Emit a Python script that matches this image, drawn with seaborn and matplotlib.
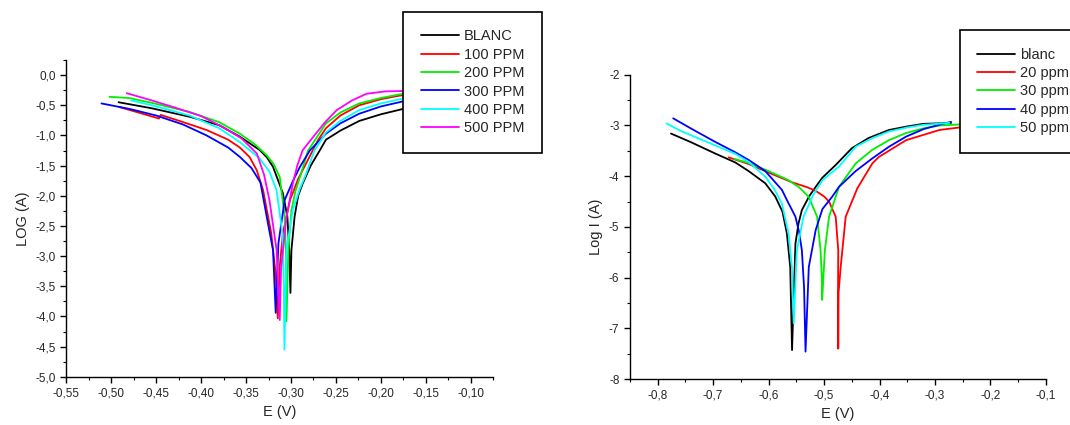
import pandas as pd
import matplotlib
matplotlib.use('Agg')
import matplotlib.pyplot as plt
from matplotlib.ticker import MultipleLocator
import seaborn as sns

# Courbes de polarisation - panneau gauche (E en V, log I)
e_blanc_g = [-0.492, -0.455, -0.413, -0.380, -0.357, -0.335, -0.327, -0.320, -0.309, -0.304, -0.302, -0.3006,
             -0.2995, -0.296, -0.292, -0.287, -0.278, -0.268, -0.261, -0.245, -0.224, -0.200, -0.175, -0.160]
log_blanc_g = [-0.45, -0.55, -0.69, -0.83, -1.02, -1.24, -1.36, -1.52, -1.96, -2.35, -2.90, -3.61,
               -2.90, -2.35, -2.00, -1.80, -1.50, -1.25, -1.07, -0.92, -0.76, -0.65, -0.56, -0.51]

e_100 = [-0.491, -0.470, -0.447, -0.445, -0.420, -0.394, -0.370, -0.357, -0.346, -0.338, -0.331, -0.322, -0.317, -0.3147,
         -0.3125, -0.309, -0.301, -0.292, -0.283, -0.270, -0.261, -0.245, -0.224, -0.200, -0.179, -0.160]
log_100 = [-0.53, -0.62, -0.72, -0.66, -0.78, -0.91, -1.07, -1.20, -1.36, -1.58, -1.91, -2.62, -3.30, -4.03,
           -3.17, -2.62, -2.07, -1.72, -1.46, -1.08, -0.88, -0.67, -0.50, -0.40, -0.34, -0.31]

e_200 = [-0.502, -0.480, -0.455, -0.413, -0.380, -0.357, -0.340, -0.327, -0.319, -0.3125, -0.307, -0.3055, -0.305,
         -0.303, -0.2995, -0.295, -0.290, -0.281, -0.261, -0.245, -0.224, -0.200, -0.179, -0.160]
log_200 = [-0.36, -0.38, -0.46, -0.61, -0.78, -0.97, -1.15, -1.33, -1.48, -1.69, -2.35, -3.00, -4.08,
           -2.90, -2.24, -1.92, -1.69, -1.25, -0.80, -0.62, -0.47, -0.38, -0.32, -0.29]

e_300 = [-0.511, -0.480, -0.450, -0.420, -0.394, -0.370, -0.357, -0.344, -0.334, -0.327, -0.320, -0.317,
         -0.314, -0.307, -0.298, -0.290, -0.279, -0.261, -0.245, -0.224, -0.200, -0.175, -0.160]
log_300 = [-0.47, -0.56, -0.67, -0.82, -1.00, -1.20, -1.355, -1.54, -1.78, -2.35, -2.90, -3.94,
           -2.79, -2.07, -1.76, -1.52, -1.25, -0.97, -0.80, -0.64, -0.52, -0.435, -0.40]

e_400 = [-0.478, -0.450, -0.413, -0.380, -0.357, -0.335, -0.324, -0.316, -0.3095, -0.308, -0.3073,
         -0.305, -0.298, -0.290, -0.283, -0.274, -0.261, -0.245, -0.224, -0.200, -0.179, -0.160]
log_400 = [-0.42, -0.52, -0.67, -0.88, -1.11, -1.38, -1.60, -1.91, -2.62, -3.50, -4.55,
           -2.90, -2.24, -1.88, -1.63, -1.25, -0.95, -0.76, -0.58, -0.47, -0.40, -0.36]

e_500 = [-0.483, -0.455, -0.431, -0.400, -0.376, -0.355, -0.338, -0.330, -0.324, -0.316, -0.3125,
         -0.311, -0.305, -0.298, -0.293, -0.287, -0.275, -0.262, -0.249, -0.232, -0.216, -0.195, -0.160]
log_500 = [-0.30, -0.42, -0.53, -0.68, -0.86, -1.05, -1.30, -1.65, -2.07, -2.90, -4.06,
           -3.20, -2.35, -1.80, -1.50, -1.245, -1.02, -0.78, -0.58, -0.42, -0.31, -0.27, -0.26]

# panneau droit
e_blanc_d = [-0.776, -0.740, -0.697, -0.660, -0.636, -0.606, -0.588, -0.575, -0.567, -0.561, -0.5577,
             -0.5516, -0.546, -0.540, -0.527, -0.515, -0.503, -0.479, -0.450, -0.420, -0.383, -0.350, -0.322, -0.271]
log_blanc_d = [-3.16, -3.33, -3.55, -3.73, -3.90, -4.14, -4.40, -4.70, -5.13, -5.79, -7.43,
               -5.33, -4.93, -4.67, -4.40, -4.21, -4.03, -3.78, -3.45, -3.25, -3.09, -3.02, -2.97, -2.95]

e_20 = [-0.672, -0.636, -0.600, -0.558, -0.530, -0.515, -0.500, -0.491, -0.479, -0.4744, -0.4748, -0.4744,
        -0.4738, -0.470, -0.461, -0.440, -0.413, -0.401, -0.352, -0.292, -0.256, -0.240]
log_20 = [-3.63, -3.76, -3.93, -4.12, -4.22, -4.29, -4.40, -4.50, -4.80, -5.46, -6.30, -7.40,
          -6.30, -5.79, -4.80, -4.24, -3.75, -3.62, -3.29, -3.09, -3.04, -3.02]

e_30 = [-0.662, -0.636, -0.600, -0.564, -0.545, -0.5275, -0.5125, -0.5063, -0.504, -0.5034,
        -0.4985, -0.491, -0.473, -0.443, -0.413, -0.383, -0.352, -0.322, -0.290, -0.253]
log_30 = [-3.66, -3.74, -3.90, -4.08, -4.22, -4.41, -4.80, -5.46, -6.00, -6.44,
          -5.46, -4.80, -4.21, -3.75, -3.48, -3.29, -3.15, -3.06, -3.00, -2.98]

e_40 = [-0.772, -0.740, -0.697, -0.660, -0.636, -0.606, -0.576, -0.567, -0.5516, -0.545, -0.540, -0.536, -0.5334,
        -0.5275, -0.515, -0.503, -0.485, -0.473, -0.443, -0.413, -0.383, -0.352, -0.320, -0.290, -0.271]
log_40 = [-2.86, -3.06, -3.32, -3.53, -3.68, -3.90, -4.27, -4.47, -4.80, -5.10, -5.46, -6.20, -7.46,
          -5.79, -5.06, -4.65, -4.40, -4.21, -3.90, -3.65, -3.42, -3.22, -3.07, -2.98, -2.93]

e_50 = [-0.784, -0.760, -0.730, -0.697, -0.660, -0.636, -0.606, -0.590, -0.576, -0.564, -0.558, -0.5547,
        -0.549, -0.537, -0.520, -0.503, -0.473, -0.443, -0.413, -0.383, -0.350, -0.322, -0.274]
log_50 = [-2.96, -3.10, -3.24, -3.39, -3.56, -3.72, -4.01, -4.25, -4.54, -5.13, -5.80, -6.90,
          -5.46, -4.80, -4.38, -4.08, -3.81, -3.42, -3.25, -3.12, -3.04, -2.99, -2.95]

# étiquettes des axes
xticks_g = [-0.55, -0.50, -0.45, -0.40, -0.35, -0.30, -0.25, -0.20, -0.15, -0.10]
xlabels_g = ['-0,55', '-0,50', '-0,45', '-0,40', '-0,35', '-0,30', '-0,25', '-0,20', '-0,15', '-0,10']
yticks_g = [0.0, -0.5, -1.0, -1.5, -2.0, -2.5, -3.0, -3.5, -4.0, -4.5, -5.0]
ylabels_g = ['0,0', '-0,5', '-1,0', '-1,5', '-2,0', '-2,5', '-3,0', '-3,5', '-4,0', '-4,5', '-5,0']
xticks_d = [-0.8, -0.7, -0.6, -0.5, -0.4, -0.3, -0.2, -0.1]
xlabels_d = ['-0,8', '-0,7', '-0,6', '-0,5', '-0,4', '-0,3', '-0,2', '-0,1']
yticks_d = [-2, -3, -4, -5, -6, -7, -8]
ylabels_d = ['-2', '-3', '-4', '-5', '-6', '-7', '-8']

couleurs = ['#000000', '#FF0000', '#00EE00', '#0000FF', '#00FFFF', '#FF00FF']

courbes_g = [('BLANC', e_blanc_g, log_blanc_g), ('100 PPM', e_100, log_100), ('200 PPM', e_200, log_200),
             ('300 PPM', e_300, log_300), ('400 PPM', e_400, log_400), ('500 PPM', e_500, log_500)]
courbes_d = [('blanc', e_blanc_d, log_blanc_d), ('20 ppm', e_20, log_20), ('30 ppm', e_30, log_30),
             ('40 ppm', e_40, log_40), ('50 ppm', e_50, log_50)]

sns.set_style('ticks')
plt.rcParams['font.family'] = ['Liberation Sans', 'DejaVu Sans']

fig = plt.figure(figsize=(10.7, 4.25), dpi=100)
ax1 = fig.add_axes([0.0621, 0.1135, 0.3987, 0.7453])
ax2 = fig.add_axes([0.5887, 0.1082, 0.3888, 0.7160])


def tracer(ax, courbes):
    for (nom, e, lg), c in zip(courbes, couleurs):
        df = pd.DataFrame({'E': e, 'logI': lg})
        sns.lineplot(data=df, x='E', y='logI', sort=False, estimator=None,
                     color=c, linewidth=1.3, label=nom, ax=ax)


tracer(ax1, courbes_g)
tracer(ax2, courbes_d)

ax1.set_xlim(-0.55, -0.075)
ax1.set_ylim(-5.0, 0.25)
ax1.set_xticks(xticks_g, xlabels_g)
ax1.set_yticks(yticks_g, ylabels_g)
ax1.xaxis.set_minor_locator(MultipleLocator(0.025))
ax1.yaxis.set_minor_locator(MultipleLocator(0.25))
ax1.set_xlabel('E (V)', fontsize=10.5)
ax1.set_ylabel('LOG (A)', fontsize=10.5)

ax2.set_xlim(-0.85, -0.1)
ax2.set_ylim(-8, -2)
ax2.set_xticks(xticks_d, xlabels_d)
ax2.set_yticks(yticks_d, ylabels_d)
ax2.xaxis.set_minor_locator(MultipleLocator(0.05))
ax2.yaxis.set_minor_locator(MultipleLocator(0.5))
ax2.set_xlabel('E (V)', fontsize=10.5)
ax2.set_ylabel('Log I (A)', fontsize=10.5)

for ax in (ax1, ax2):
    sns.despine(ax=ax)
    ax.spines['left'].set_linewidth(1.0)
    ax.spines['bottom'].set_linewidth(1.0)
    ax.spines['left'].set_color('black')
    ax.spines['bottom'].set_color('black')
    ax.tick_params(which='major', direction='out', length=4, width=1.0, labelsize=8.5, color='black')
    ax.tick_params(which='minor', direction='out', length=2.5, width=0.8, color='black')

leg_opts = dict(loc='upper left', bbox_transform=fig.transFigure, fontsize=10.5, frameon=True,
                fancybox=False, handlelength=2.6, handletextpad=0.35, labelspacing=0.3,
                borderpad=1.2, borderaxespad=0)
l1 = ax1.legend(bbox_to_anchor=(0.377, 0.972), **leg_opts)
l2 = ax2.legend(bbox_to_anchor=(0.897, 0.929), **leg_opts)
for lg in (l1, l2):
    lg.get_frame().set_edgecolor('black')
    lg.get_frame().set_linewidth(1.2)
    lg.get_frame().set_alpha(1)

fig.savefig('out.png', dpi=100)
